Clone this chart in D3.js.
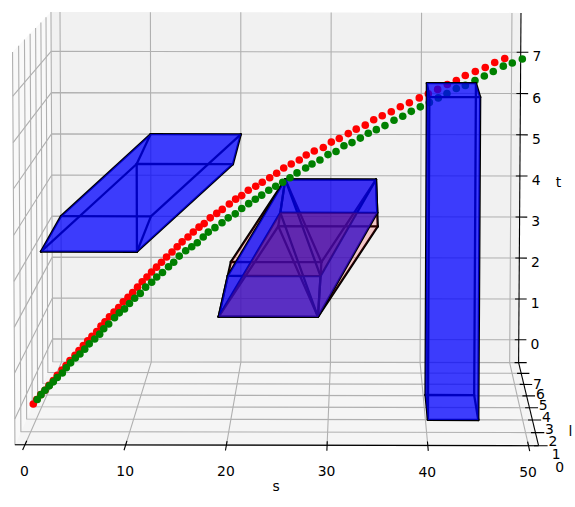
<!DOCTYPE html>
<html>
<head>
<meta charset="utf-8">
<script src="https://cdn.jsdelivr.net/npm/d3@7"></script>
<style>
html,body{margin:0;padding:0;background:#fff;}
svg{display:block;}
text{font-family:"DejaVu Sans",sans-serif;font-size:13.9px;fill:#000;text-anchor:middle;}
</style>
</head>
<body>
<svg id="chart" width="575" height="507"></svg>
<script>
// ---------- data ----------
const sTicks = [0,10,20,30,40,50];
const lTicks = [0,1,2,3,4,5,6,7];
const tTicks = [0,1,2,3,4,5,6,7];
const sLimits = [-1,51];
const lLimits = [0,7];
const tLimits = [-0.56,7.95];
const curveDepth = 2;

const redS = [-0.31,0.04,0.46,0.90,1.31,1.76,2.17,2.66,3.07,3.48,4.00,4.41,4.86,5.31,5.75,6.24,6.68,7.09,7.55,8.02,8.50,8.97,9.46,9.94,10.44,10.92,11.41,11.88,12.39,12.90,13.42,13.98,14.51,15.02,15.62,16.16,16.75,17.28,17.90,18.56,19.13,19.85,20.50,21.12,21.79,22.55,23.22,23.98,24.69,25.41,26.18,27.00,27.71,28.53,29.45,30.27,31.08,32.00,32.81,33.73,34.59,35.46,36.38,37.30,38.22,39.23,40.15,41.10,42.08,43.00,43.91,44.93,45.94,46.90,47.92];
const redT = [-0.22,-0.12,-0.01,0.09,0.20,0.31,0.43,0.55,0.65,0.76,0.88,0.99,1.10,1.21,1.31,1.42,1.54,1.64,1.75,1.86,1.96,2.09,2.19,2.30,2.42,2.54,2.65,2.76,2.87,2.98,3.10,3.21,3.33,3.44,3.55,3.66,3.77,3.85,3.98,4.08,4.17,4.29,4.40,4.48,4.60,4.69,4.78,4.88,4.98,5.10,5.19,5.28,5.39,5.48,5.56,5.68,5.76,5.87,5.97,6.06,6.18,6.27,6.36,6.47,6.56,6.67,6.76,6.86,6.97,7.06,7.17,7.26,7.35,7.46,7.55];
const greenS = [0.10,0.49,0.90,1.34,1.76,2.17,2.69,3.10,3.55,4.03,4.51,5.00,5.47,6.03,6.54,6.96,7.47,8.07,8.56,9.10,9.61,10.14,10.72,11.27,11.89,12.41,13.00,13.62,14.15,14.72,15.38,16.00,16.57,17.18,17.70,18.38,19.10,19.74,20.46,21.12,21.83,22.51,23.16,23.88,24.59,25.31,26.05,26.77,27.65,28.30,29.11,29.93,30.75,31.56,32.38,33.23,34.04,34.86,35.74,36.66,37.55,38.42,39.34,40.26,41.17,42.05,43.00,43.92,44.90,45.85,46.76,47.78,48.69,49.71];
const greenT = [-0.12,-0.01,0.09,0.19,0.28,0.38,0.48,0.60,0.71,0.82,0.91,1.02,1.14,1.25,1.36,1.48,1.59,1.73,1.84,1.93,2.05,2.17,2.28,2.42,2.53,2.65,2.75,2.88,2.98,3.12,3.24,3.33,3.42,3.55,3.66,3.76,3.87,3.98,4.07,4.19,4.30,4.40,4.49,4.60,4.69,4.78,4.88,4.99,5.10,5.19,5.28,5.40,5.47,5.60,5.67,5.77,5.88,5.96,6.05,6.17,6.26,6.37,6.47,6.57,6.67,6.77,6.88,6.95,7.06,7.16,7.26,7.38,7.45,7.54];

// prisms: s span, l span and t level of the lower and upper rectangles
const prismOneLower = {s:[0,10],  l:[3,7],   t:3};
const prismOneUpper = {s:[10,20], l:[3,7],   t:5};
const prismTwoLower = {s:[19,29], l:[1,5],   t:2};
const prismTwoUpper = {s:[25,35], l:[2.5,6.5], t:4};
const prismPinkLower = {s:[19,29], l:[1,6.5], t:2};
const prismPinkUpper = {s:[25,35], l:[1,6.5], t:4};
const prismTallLower = {s:[40,45], l:[0,2],  t:0};
const prismTallUpper = {s:[40,45], l:[0,2],  t:7};

// ---------- projection built from d3 scales ----------
const xFromS = d3.scaleLinear().domain([0,50]).range([25,528.5]);
const xFromL = d3.scaleLinear().domain([0,7]).range([0,44.35]);
const xFromT = d3.scaleLinear().domain(tLimits).range([0,-2.51]);
const yFromS = d3.scaleLinear().domain([0,50]).range([444.7,445.7]);
const yFromL = d3.scaleLinear().domain([0,7]).range([0,-38.15]);
const yFromT = d3.scaleLinear().domain(tLimits).range([0,-393.2]);
const wFromL = d3.scaleLinear().domain([0,7]).range([1,1.124]);
const wFromT = d3.scaleLinear().domain(tLimits).range([0,-0.00996]);
function project(s,l,t){
  const w = wFromL(l)+wFromT(t);
  return [(xFromS(s)+xFromL(l)+xFromT(t))/w, (yFromS(s)+yFromL(l)+yFromT(t))/w];
}

const svg = d3.select("#chart");
const path = d3.line();
const closed = pts => path(pts)+"Z";
const [sMin,sMax]=sLimits,[lMin,lMax]=lLimits,[tMin,tMax]=tLimits;

// ---------- panes ----------
const panes = svg.append("g");
panes.append("path").attr("fill","#f9f9f9").attr("d",closed([project(sMin,lMin,tMin),project(sMin,lMax,tMin),project(sMin,lMax,tMax),project(sMin,lMin,tMax)]));
panes.append("path").attr("fill","#f1f1f1").attr("d",closed([project(sMin,lMax,tMin),project(sMax,lMax,tMin),project(sMax,lMax,tMax),project(sMin,lMax,tMax)]));
panes.append("path").attr("fill","#f5f5f5").attr("d",closed([project(sMin,lMin,tMin),project(sMax,lMin,tMin),project(sMax,lMax,tMin),project(sMin,lMax,tMin)]));

// ---------- grid ----------
const grid = svg.append("g").attr("fill","none").attr("stroke","#b0b0b0").attr("stroke-width",1.1);
sTicks.forEach(s=>grid.append("path").attr("d",path([project(s,lMin,tMin),project(s,lMax,tMin),project(s,lMax,tMax)])));
lTicks.forEach(l=>grid.append("path").attr("d",path([project(sMax,l,tMin),project(sMin,l,tMin),project(sMin,l,tMax)])));
tTicks.forEach(t=>grid.append("path").attr("d",path([project(sMin,lMin,t),project(sMin,lMax,t),project(sMax,lMax,t)])));

// ---------- axes ----------
const axes = svg.append("g").attr("fill","none").attr("stroke","#000").attr("stroke-width",1.1);
axes.append("path").attr("d",path([project(sMin,lMin,tMin),project(sMax,lMin,tMin)]));
axes.append("path").attr("d",path([project(sMax,lMin,tMin),project(sMax,lMax,tMin)]));
axes.append("path").attr("d",path([project(sMax,lMax,tMin),project(sMax,lMax,tMax)]));
sTicks.forEach(s=>axes.append("path").attr("d",path([project(s,0.3,tMin),project(s,-0.4,tMin)])));
lTicks.forEach(l=>axes.append("path").attr("d",path([project(sMax-0.45,l,tMin),project(sMax+0.9,l,tMin)])));
tTicks.forEach(t=>axes.append("path").attr("d",path([project(sMax-0.45,lMax,t),project(sMax+0.85,lMax,t)])));

const labels = svg.append("g");
sTicks.forEach(s=>{const p=project(s,lMin,tMin);labels.append("text").attr("x",p[0]-0.5).attr("y",p[1]+31).text(s);});
lTicks.forEach(l=>{const p=project(sMax+2.1,l,tMin);labels.append("text").attr("x",p[0]).attr("y",p[1]+26).text(l);});
tTicks.forEach(t=>{const p=project(sMax+1.8,lMax,t);labels.append("text").attr("x",p[0]).attr("y",p[1]+9).text(t);});
labels.append("text").attr("x",276).attr("y",491).text("s");
labels.append("text").attr("x",558.5).attr("y",187).text("t");
labels.append("text").attr("x",570.5).attr("y",436).text("l");

// ---------- prisms ----------
function corners(lo,up){
  return [
    project(lo.s[0],lo.l[0],lo.t),project(lo.s[1],lo.l[0],lo.t),
    project(lo.s[1],lo.l[1],lo.t),project(lo.s[0],lo.l[1],lo.t),
    project(up.s[0],up.l[0],up.t),project(up.s[1],up.l[0],up.t),
    project(up.s[1],up.l[1],up.t),project(up.s[0],up.l[1],up.t)];
}
const faceIdx=[[0,1,5,4],[3,2,6,7],[0,1,2,3],[4,5,6,7],[0,3,7,4],[1,2,6,5]];
const edgeIdx=[[0,1],[1,2],[2,3],[3,0],[4,5],[5,6],[6,7],[7,4],[0,4],[1,5],[2,6],[3,7]];
function drawEdges(g,c,extra,w){
  edgeIdx.concat(extra).forEach(e=>g.append("path").attr("fill","none").attr("stroke","#000").attr("stroke-width",w)
    .attr("stroke-linecap","round").attr("d",path([c[e[0]],c[e[1]]])));
}
function drawFaces(g,c,fill){
  faceIdx.forEach(f=>g.append("path").attr("fill",fill).attr("d",closed(f.map(i=>c[i]))));
}
const BLUE="rgba(0,0,255,0.5)";
const EDGE=2.3;
const gBoxes = svg.append("g");

const one = corners(prismOneLower,prismOneUpper);
drawEdges(gBoxes,one,[[4,1]],EDGE);
drawFaces(gBoxes,one,BLUE);

const pink = corners(prismPinkLower,prismPinkUpper);
const two = corners(prismTwoLower,prismTwoUpper);
drawEdges(gBoxes,pink,[[4,1],[7,2]],EDGE);
drawFaces(gBoxes,pink,"rgba(255,0,0,0.09)");
drawEdges(gBoxes,two,[[4,1],[7,2]],EDGE);
drawFaces(gBoxes,two,BLUE);
// red tint seen through the front of the second blue prism
const frontFace=[0,1,5,4].map(i=>two[i]);
const backFace=[3,2,6,7].map(i=>two[i]);
svg.append("clipPath").attr("id","frontClip").append("path").attr("d",closed(frontFace));
gBoxes.append("path").attr("fill","rgba(200,40,30,0.22)").attr("d",closed(frontFace));
gBoxes.append("path").attr("fill","rgba(150,0,50,0.13)").attr("clip-path","url(#frontClip)").attr("d",closed(backFace));

// ---------- dots ----------
const gDots = svg.append("g");
gDots.selectAll("circle.r").data(d3.zip(redS,redT)).join("circle").attr("class","r")
  .attr("cx",d=>project(d[0],curveDepth,d[1])[0]).attr("cy",d=>project(d[0],curveDepth,d[1])[1])
  .attr("r",3.8).attr("fill","#ff0000");
gDots.selectAll("circle.g").data(d3.zip(greenS,greenT)).join("circle").attr("class","g")
  .attr("cx",d=>project(d[0],curveDepth,d[1])[0]).attr("cy",d=>project(d[0],curveDepth,d[1])[1])
  .attr("r",3.8).attr("fill","#008000");

// ---------- tall prism in front of the dots ----------
const gTall = svg.append("g");
const tall = corners(prismTallLower,prismTallUpper);
drawEdges(gTall,tall,[],EDGE);
drawFaces(gTall,tall,BLUE);
</script>
</body>
</html>
